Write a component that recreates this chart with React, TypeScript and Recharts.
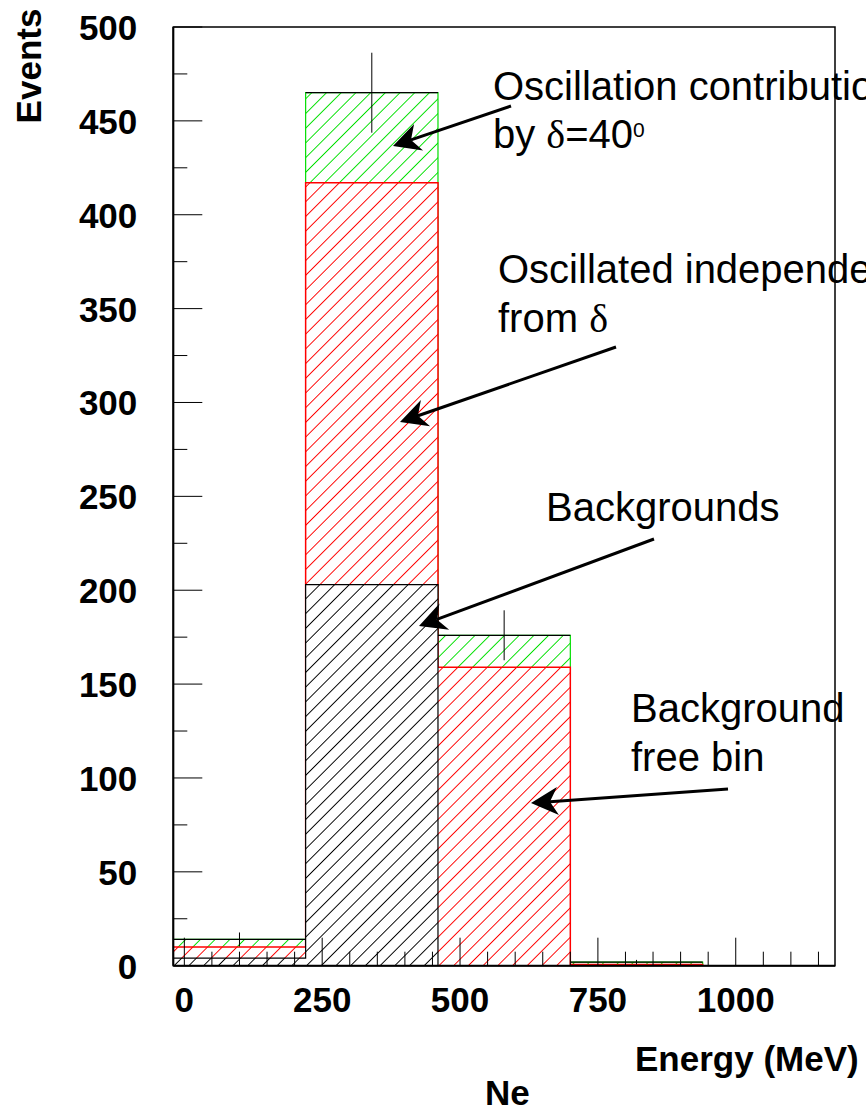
import React from "react";
import { ComposedChart, Area, Scatter, ErrorBar, XAxis, YAxis, ReferenceArea } from "recharts";

// bin edges in MeV (the last one closes the last bin)
const binEdges = [-20, 220, 460, 700, 940, 1180];
// histograms are overlaid, each value is the cumulative height of the bin
const totalEvents = [14, 465, 176, 1.9, 0, 0];
const deltaIndepEvents = [10, 417, 159, 0.7, 0, 0];
const backgroundEvents = [4, 203, 0, 0, 0, 0];

// points with error bars on the total
const binCenters = [100, 340, 580, 820];
const statErrors = [3.7, 21.3, 13.3, 1.2];
const halfBin = [120, 120, 120, 120];

const xTicks = [0, 50, 100, 150, 200, 250, 300, 350, 400, 450, 500, 550, 600, 650, 700, 750, 800, 850, 900, 950, 1000, 1050, 1100, 1150];
const xLabels = [0, 250, 500, 750, 1000];
const yTicks = [0, 25, 50, 75, 100, 125, 150, 175, 200, 225, 250, 275, 300, 325, 350, 375, 400, 425, 450, 475, 500];
const yLabels = [0, 50, 100, 150, 200, 250, 300, 350, 400, 450, 500];

const W = 866;
const H = 1112;
const SANS = "'Liberation Sans', Arial, Helvetica, sans-serif";
const SERIF = "'Liberation Serif', 'DejaVu Serif', serif";

const histData = binEdges.map((e, i) => ({
  e,
  total: totalEvents[i],
  indep: deltaIndepEvents[i],
  bg: backgroundEvents[i],
}));

const errData = binCenters.map((e, i) => ({
  e,
  total: totalEvents[i],
  yerr: statErrors[i],
  xerr: halfBin[i],
}));

function XTick(props: any) {
  const { x, y, payload } = props;
  const major = xLabels.includes(payload.value);
  return (
    <g>
      <line x1={x} x2={x} y1={y} y2={y - (major ? 28 : 14)} stroke="#000" strokeWidth={1} />
      {major && (
        <text x={x} y={y + 46} textAnchor="middle" fontFamily={SANS} fontWeight="bold" fontSize={35} fill="#000">
          {payload.value}
        </text>
      )}
    </g>
  );
}

function YTick(props: any) {
  const { x, y, payload } = props;
  const major = yLabels.includes(payload.value);
  return (
    <g>
      <line x1={x} x2={x + (major ? 29 : 14)} y1={y} y2={y} stroke="#000" strokeWidth={1} />
      {major && (
        <text x={x - 36} y={y + 13} textAnchor="end" fontFamily={SANS} fontWeight="bold" fontSize={35} fill="#000">
          {payload.value}
        </text>
      )}
    </g>
  );
}

function Arrow({ x1, y1, x2, y2 }: { x1: number; y1: number; x2: number; y2: number }) {
  const len = Math.hypot(x1 - x2, y1 - y2);
  const ux = (x1 - x2) / len;
  const uy = (y1 - y2) / len;
  const nx = -uy;
  const ny = ux;
  const L = 27, Wd = 14, N = 19;
  const pts = [
    [x2, y2],
    [x2 + L * ux + Wd * nx, y2 + L * uy + Wd * ny],
    [x2 + N * ux, y2 + N * uy],
    [x2 + L * ux - Wd * nx, y2 + L * uy - Wd * ny],
  ];
  return (
    <g>
      <line x1={x1} y1={y1} x2={x2 + N * ux} y2={y2 + N * uy} stroke="#000" strokeWidth={3} />
      <polygon points={pts.map((p) => p.join(",")).join(" ")} fill="#000" />
    </g>
  );
}

function Notes() {
  const t = { fontFamily: SANS, fontSize: 40, fill: "#000" };
  const b = { fontFamily: SANS, fontSize: 35, fontWeight: "bold" as const, fill: "#000" };
  return (
    <svg width={W} height={H} style={{ position: "absolute", left: 0, top: 0, pointerEvents: "none" }}>
      <text x={493} y={100} {...t}>Oscillation contribution</text>
      <text x={493} y={148} {...t}>
        by <tspan fontFamily={SERIF}>δ</tspan>=40<tspan fontSize={21} dy={-11}>0</tspan>
      </text>
      <Arrow x1={511} y1={106} x2={393} y2={146} />

      <text x={498} y={283} {...t}>Oscillated independent</text>
      <text x={498} y={332} {...t}>
        from <tspan fontFamily={SERIF}>δ</tspan>
      </text>
      <Arrow x1={616} y1={347} x2={400} y2={422} />

      <text x={546} y={521} {...t}>Backgrounds</text>
      <Arrow x1={654} y1={539} x2={419} y2={626} />

      <text x={631} y={722} {...t}>Background</text>
      <text x={631} y={771} {...t}>free bin</text>
      <Arrow x1={728} y1={789} x2={531} y2={803} />

      <text x={635} y={1071} {...b}>Energy (MeV)</text>
      <text x={485} y={1105} {...b}>Ne</text>
      <text x={41} y={66} transform="rotate(-90, 41, 66)" textAnchor="middle" {...b}>Events</text>
    </svg>
  );
}

export default function App() {
  return (
    <div style={{ position: "absolute", left: 0, top: 0, width: W, height: H, overflow: "hidden", background: "#fff" }}>
      <ComposedChart
        width={W}
        height={H}
        data={histData}
        margin={{ top: 27, right: 31, bottom: 100, left: 0 }}
      >
        <defs>
          <pattern id="hGreen" patternUnits="userSpaceOnUse" width="10.4" height="10.4" patternTransform="rotate(45)">
            <rect width="10.4" height="10.4" fill="#fff" />
            <line x1="5.2" y1="0" x2="5.2" y2="10.4" stroke="#00e000" strokeWidth="1" />
          </pattern>
          <pattern id="hRed" patternUnits="userSpaceOnUse" width="10.4" height="10.4" patternTransform="rotate(45)">
            <rect width="10.4" height="10.4" fill="#fff" />
            <line x1="5.2" y1="0" x2="5.2" y2="10.4" stroke="#ff0000" strokeWidth="1" />
          </pattern>
          <pattern id="hBlack" patternUnits="userSpaceOnUse" width="10.4" height="10.4" patternTransform="rotate(45)">
            <rect width="10.4" height="10.4" fill="#fff" />
            <line x1="5.2" y1="0" x2="5.2" y2="10.4" stroke="#000" strokeWidth="1" />
          </pattern>
        </defs>
        <Area type="stepAfter" dataKey="total" stroke="#00dd00" strokeWidth={1.2} fill="url(#hGreen)" fillOpacity={1} dot={false} activeDot={false} isAnimationActive={false} />
        <Area type="stepAfter" dataKey="indep" stroke="#ff0000" strokeWidth={1.5} fill="url(#hRed)" fillOpacity={1} dot={false} activeDot={false} isAnimationActive={false} />
        <Area type="stepAfter" dataKey="bg" stroke="#000" strokeWidth={1.2} fill="url(#hBlack)" fillOpacity={1} dot={false} activeDot={false} isAnimationActive={false} />
        <Scatter data={errData} dataKey="total" shape={() => <g />} isAnimationActive={false}>
          <ErrorBar dataKey="xerr" direction="x" width={0} stroke="#000" strokeWidth={1.2} />
          <ErrorBar dataKey="yerr" direction="y" width={0} stroke="#000" strokeWidth={1} />
        </Scatter>
        <ReferenceArea x1={-20} x2={1180} y1={0} y2={500} fill="none" stroke="#000" strokeWidth={1.5} />
        <XAxis
          type="number"
          dataKey="e"
          domain={[-20, 1180]}
          allowDataOverflow
          ticks={xTicks}
          interval={0}
          height={46.3}
          tickSize={0}
          tickMargin={0}
          tick={<XTick />}
          tickLine={false}
          axisLine={{ stroke: "#000", strokeWidth: 2 }}
        />
        <YAxis
          type="number"
          domain={[0, 500]}
          allowDataOverflow
          ticks={yTicks}
          interval={0}
          width={173.3}
          tickSize={0}
          tickMargin={0}
          tick={<YTick />}
          tickLine={false}
          axisLine={{ stroke: "#000", strokeWidth: 2 }}
        />
      </ComposedChart>
      <Notes />
    </div>
  );
}
